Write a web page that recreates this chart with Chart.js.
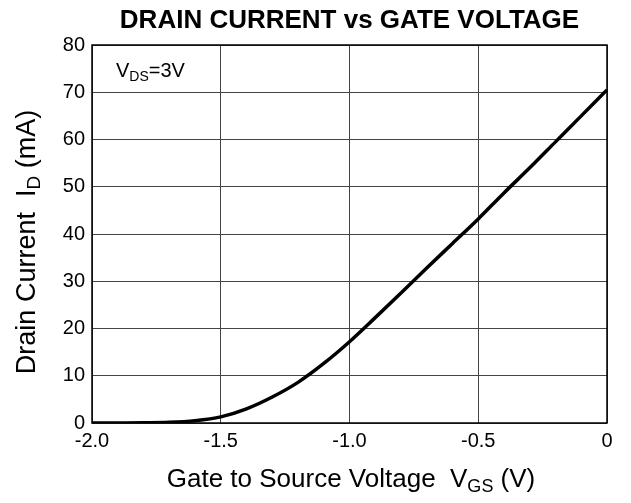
<!DOCTYPE html>
<html>
<head>
<meta charset="utf-8">
<script src="https://cdn.jsdelivr.net/npm/chart.js@4"></script>
<style>
  html, body { margin: 0; padding: 0; background: #fff; }
  #wrap { width: 631px; height: 503px; }
</style>
</head>
<body>
<div id="wrap"><canvas id="idVgs"></canvas></div>
<script>
// Values
const vgs = [-2.0, -1.9, -1.8, -1.7, -1.6, -1.5, -1.4, -1.3, -1.2, -1.1, -1.0, -0.9, -0.8, -0.7, -0.6, -0.5, -0.4, -0.3, -0.2, -0.1, 0.0];
const idMa = [0, 0.02, 0.05, 0.15, 0.5, 1.3, 3.0, 5.5, 8.6, 12.6, 17.2, 22.3, 27.5, 32.8, 38.0, 43.2, 48.7, 54.0, 59.5, 65.0, 70.5];
const xTicks = [-2.0, -1.5, -1.0, -0.5, 0];
const xTickLabels = ['-2.0', '-1.5', '-1.0', '-0.5', '0'];
const yTicks = [0, 10, 20, 30, 40, 50, 60, 70, 80];

const FONT = 'Liberation Sans, Arial, sans-serif';

// width of a run of [text, isSub] pieces
function runsWidth(ctx, runs, size) {
    let w = 0;
    runs.forEach(r => {
        ctx.font = (r[1] ? Math.round(size * 0.7) : size) + 'px ' + FONT;
        w += ctx.measureText(r[0]).width;
    });
    return w;
}
function paintRuns(ctx, runs, x, y, size) {
    runs.forEach(r => {
        const sub = r[1];
        ctx.font = (sub ? Math.round(size * 0.7) : size) + 'px ' + FONT;
        ctx.fillText(r[0], x, sub ? y + size * 0.18 : y);
        x += ctx.measureText(r[0]).width;
    });
}

const textPlugin = {
    id: 'texts',
    afterDraw(chart) {
        const ctx = chart.ctx;
        const a = chart.chartArea;
        ctx.save();
        ctx.fillStyle = '#000';
        ctx.textBaseline = 'alphabetic';
        ctx.textAlign = 'left';

        // frame
        ctx.strokeStyle = '#000';
        ctx.lineWidth = 1.5;
        ctx.strokeRect(a.left, a.top, a.right - a.left, a.bottom - a.top);

        // title
        ctx.font = 'bold 26px ' + FONT;
        ctx.textAlign = 'center';
        ctx.fillText('DRAIN CURRENT vs GATE VOLTAGE', (a.left + a.right) / 2, 28);
        ctx.textAlign = 'left';

        // annotation
        paintRuns(ctx, [['V', false], ['DS', true], ['=3V', false]], 116, 77, 20);

        // x axis title
        const xt = [['Gate to Source Voltage  V', false], ['GS', true], [' (V)', false]];
        const xw = runsWidth(ctx, xt, 26);
        paintRuns(ctx, xt, 351 - xw / 2, 487, 26);

        // y axis title
        const yt = [['Drain Current  I', false], ['D', true], [' (mA)', false]];
        const yw = runsWidth(ctx, yt, 27);
        ctx.translate(35, 242);
        ctx.rotate(-Math.PI / 2);
        paintRuns(ctx, yt, -yw / 2, 0, 27);
        ctx.restore();
    }
};

new Chart(document.getElementById('idVgs'), {
    type: 'line',
    data: {
        datasets: [{
            data: vgs.map((v, i) => ({ x: v, y: idMa[i] })),
            borderColor: '#000',
            borderWidth: 3.5,
            pointRadius: 0,
            cubicInterpolationMode: 'monotone',
            fill: false
        }]
    },
    options: {
        responsive: true,
        maintainAspectRatio: false,
        animation: false,
        layout: { padding: { top: 45, right: 24, left: 0, bottom: 0 } },
        plugins: { legend: { display: false }, tooltip: { enabled: false } },
        scales: {
            x: {
                type: 'linear',
                min: -2,
                max: 0,
                afterBuildTicks: s => { s.ticks = xTicks.map(v => ({ value: v })); },
                afterFit: s => { s.height = 80; },
                ticks: {
                    color: '#000',
                    font: { family: FONT, size: 20 },
                    padding: 6,
                    maxRotation: 0,
                    callback: (v) => xTickLabels[xTicks.indexOf(v)]
                },
                grid: { color: '#444', lineWidth: 1, drawTicks: false },
                border: { display: false }
            },
            y: {
                min: 0,
                max: 80,
                afterBuildTicks: s => { s.ticks = yTicks.map(v => ({ value: v })); },
                afterFit: s => { s.width = 92; },
                ticks: {
                    color: '#000',
                    font: { family: FONT, size: 20 },
                    padding: 7
                },
                grid: { color: '#444', lineWidth: 1, drawTicks: false },
                border: { display: false }
            }
        }
    },
    plugins: [textPlugin]
});
</script>
</body>
</html>
